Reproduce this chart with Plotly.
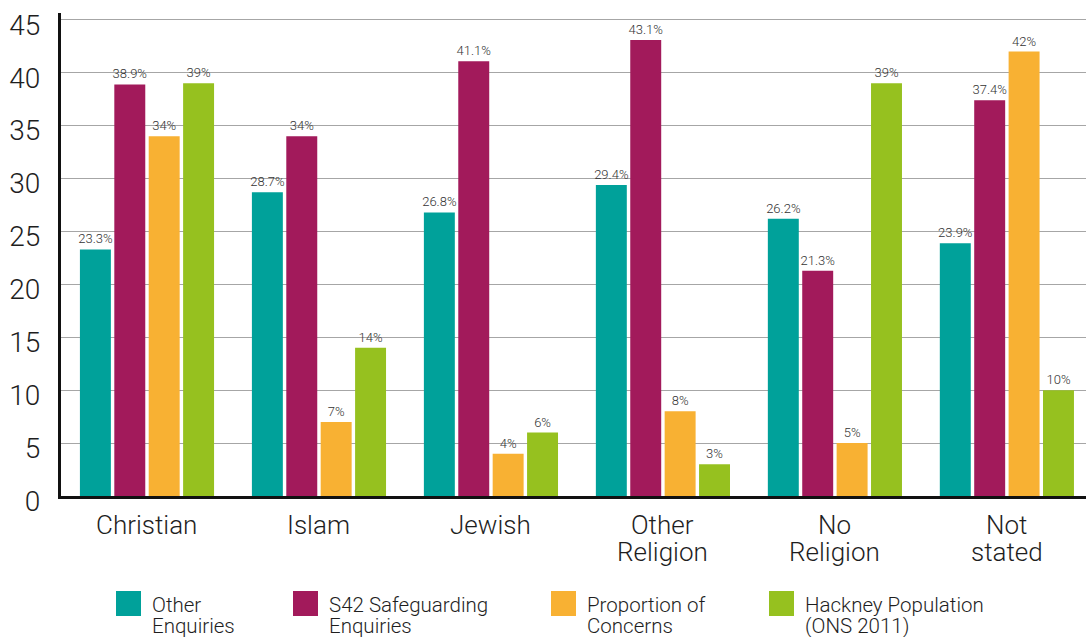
import plotly.graph_objects as go

# Religion breakdown of safeguarding concerns and enquiries (%)
categories = ["Christian", "Islam", "Jewish", "Other Religion", "No Religion", "Not stated"]
category_lines = [["Christian"], ["Islam"], ["Jewish"], ["Other", "Religion"],
                  ["No", "Religion"], ["Not", "stated"]]
other_enquiries = [23.3, 28.7, 26.8, 29.4, 26.2, 23.9]
s42_enquiries = [38.9, 34, 41.1, 43.1, 21.3, 37.4]
proportion_concerns = [34, 7, 4, 8, 5, 42]
hackney_population = [39, 14, 6, 3, 39, 10]

series_names = ["Other Enquiries", "S42 Safeguarding Enquiries",
                "Proportion of Concerns", "Hackney Population (ONS 2011)"]
legend_lines = [["Other", "Enquiries"], ["S42 Safeguarding", "Enquiries"],
                ["Proportion of", "Concerns"], ["Hackney Population", "(ONS 2011)"]]
series_values = [other_enquiries, s42_enquiries, proportion_concerns, hackney_population]
colors = ["#00A19A", "#A21A5B", "#F8B133", "#96C11F"]

FONT = "Helvetica Neue, Roboto, Liberation Sans, Arial, sans-serif"
W, H = 1086, 637
ML, MR, MT, MB = 61, 0, 13, 141

fig = go.Figure()
for name, vals, col in zip(series_names, series_values, colors):
    fig.add_trace(go.Bar(
        x=categories, y=vals, name=name, marker_color=col, marker_line_width=0,
        text=[f"{v:g}%" for v in vals], textposition="outside", constraintext="none",
        textfont=dict(family=FONT, size=13, color="#333333", weight=300),
        cliponaxis=False, showlegend=False,
    ))

# pixel -> paper helpers for the hand-placed labels and legend
pw, ph = W - ML - MR, H - MT - MB
def px(x):
    return (x - ML) / pw
def py(y):
    return (H - MB - y) / ph

shapes, annotations = [], []

# category labels, one annotation per line for tight line spacing
for cat, lines in zip(categories, category_lines):
    for i, line in enumerate(lines):
        annotations.append(dict(xref="x", yref="paper", x=cat, y=py(525 + 27 * i),
                                xanchor="center", yanchor="middle", showarrow=False,
                                text=line,
                                font=dict(family=FONT, size=26, color="#1e1e1e", weight=300)))

# legend: colour swatch plus two lines of text
legend_x = [116, 293, 551, 769]
for x0, lines, col in zip(legend_x, legend_lines, colors):
    shapes.append(dict(type="rect", xref="paper", yref="paper",
                       x0=px(x0), x1=px(x0 + 25), y0=py(616), y1=py(591),
                       fillcolor=col, line_width=0))
    for i, line in enumerate(lines):
        annotations.append(dict(xref="paper", yref="paper", x=px(x0 + 34), y=py(605 + 21 * i),
                                xanchor="left", yanchor="middle", align="left", showarrow=False,
                                text=line,
                                font=dict(family=FONT, size=20.5, color="#1e1e1e", weight=300)))

fig.update_layout(
    width=W, height=H, autosize=False,
    margin=dict(l=ML, r=MR, t=MT, b=MB, pad=0),
    paper_bgcolor="white", plot_bgcolor="white",
    barmode="group", bargap=0.2, bargroupgap=0.1,
    shapes=shapes, annotations=annotations,
    xaxis=dict(range=[-0.5, 5.46], showline=True, linecolor="#111", linewidth=3,
               showgrid=False, ticks="", showticklabels=False),
    yaxis=dict(range=[0, 45.65], dtick=5, showline=True, linecolor="#111", linewidth=3,
               showgrid=True, gridcolor="#a6a6a6", gridwidth=1, zeroline=False,
               ticks="", ticklabelstandoff=12, ticklabelshift=5, ticklabeloverflow="allow",
               tickfont=dict(family=FONT, size=28, color="#1e1e1e", weight=300)),
)

fig.write_html("out.html")
